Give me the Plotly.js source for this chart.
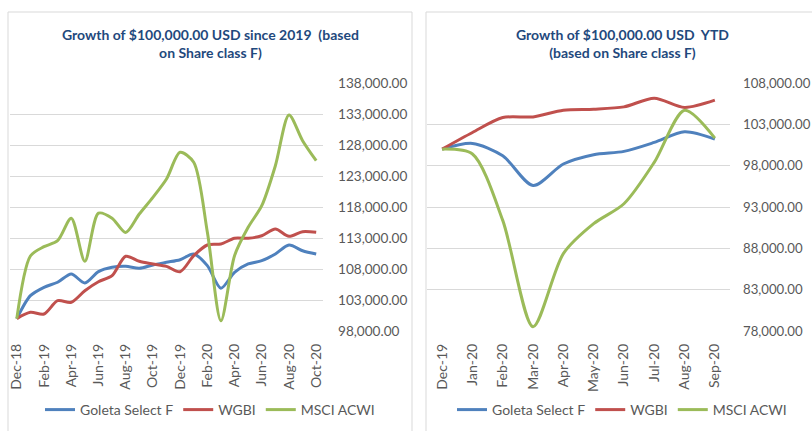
<!DOCTYPE html>
<html>
<head>
<meta charset="utf-8">
<script src="https://cdn.plot.ly/plotly-3.0.1.min.js"></script>
<style>html,body{margin:0;padding:0;background:#fff;}#chart{width:812px;height:431px;}</style>
</head>
<body>
<div id="chart"></div>
<script>
// ---- Data: since 2019 (left chart) ----
const monthsLeft = ['Dec-18','Jan-19','Feb-19','Mar-19','Apr-19','May-19','Jun-19','Jul-19','Aug-19','Sep-19','Oct-19','Nov-19',
  'Dec-19','Jan-20','Feb-20','Mar-20','Apr-20','May-20','Jun-20','Jul-20','Aug-20','Sep-20','Oct-20'];
const leftTickLabels = ['Dec-18','Feb-19','Apr-19','Jun-19','Aug-19','Oct-19','Dec-19','Feb-20','Apr-20','Jun-20','Aug-20','Oct-20'];
const goletaLeft = [100000,103700,105050,105860,107200,105740,107570,108270,108430,108110,108650,109080,
  109500,110420,108540,104890,107470,108810,109340,110420,111870,110950,110420];
const wgbiLeft = [100000,101010,100740,102890,102630,104500,105950,106920,110050,109240,108810,108430,
  107570,110150,111870,112030,112950,112950,113370,114450,113270,114020,113920];
const msciLeft = [100000,110100,111600,112570,116180,109240,117000,116200,113900,116870,119560,122520,
  126820,125210,113970,99660,110150,114720,118210,124660,132840,128700,125470];

// ---- Data: YTD (right chart) ----
const monthsRight = ['Dec-19','Jan-20','Feb-20','Mar-20','Apr-20','May-20','Jun-20','Jul-20','Aug-20','Sep-20'];
const goletaRight = [100000,100690,99200,95600,98200,99330,99730,100810,102100,101220];
const wgbiRight = [100000,102015,103820,103900,104710,104830,105110,106160,105050,105920];
const msciRight = [100000,99410,91380,78520,87360,90980,93390,98400,104710,101340];

const seriesNames = ['Goleta Select F','WGBI','MSCI ACWI'];
const colors = ['#4F81BD','#C0504D','#9BBB59'];

const W = 812, H = 431;
const px = x => x / W;
const py = y => 1 - y / H;

const FONT = 'Lato, "Open Sans", sans-serif';
const GRAY = '#595959';
const TITLE_COLOR = '#1F497D';

function mk(x, y, i, xa, ya, leg) {
  return {
    x: x, y: y, name: seriesNames[i], type: 'scatter', mode: 'lines',
    line: {color: colors[i], width: 3, shape: 'spline', smoothing: 0.8},
    xaxis: xa, yaxis: ya, legend: leg, hoverinfo: 'x+y+name'
  };
}

const traces = [
  mk(monthsLeft, goletaLeft, 0, 'x', 'y', 'legend'),
  mk(monthsLeft, wgbiLeft, 1, 'x', 'y', 'legend'),
  mk(monthsLeft, msciLeft, 2, 'x', 'y', 'legend'),
  mk(monthsRight, goletaRight, 0, 'x2', 'y2', 'legend2'),
  mk(monthsRight, wgbiRight, 1, 'x2', 'y2', 'legend2'),
  mk(monthsRight, msciRight, 2, 'x2', 'y2', 'legend2')
];

const xBase = {
  type: 'category', showgrid: false, zeroline: false, showline: false, ticks: '',
  tickangle: -90, tickfont: {family: FONT, size: 14, color: GRAY}, ticklabelstandoff: 9, fixedrange: true
};
const yBase = {
  side: 'right', showgrid: true, gridcolor: '#D9D9D9', gridwidth: 1, zeroline: false, showline: false,
  ticks: '', tickformat: ',.2f', dtick: 5000, tickfont: {family: FONT, size: 13.6, color: GRAY},
  ticklabelstandoff: 14, fixedrange: true
};

const legBase = {orientation: 'h', y: py(410), yanchor: 'middle', xanchor: 'center',
  font: {family: FONT, size: 14, color: GRAY}, bgcolor: 'rgba(0,0,0,0)', itemwidth: 30, tracegroupgap: 0};

const layout = {
  width: W, height: H,
  margin: {l: 0, r: 0, t: 0, b: 0},
  paper_bgcolor: '#ffffff', plot_bgcolor: 'rgba(0,0,0,0)',
  font: {family: FONT, color: GRAY},
  xaxis: Object.assign({}, xBase, {domain: [px(10), px(323)], anchor: 'y', range: [-0.5, monthsLeft.length - 0.5],
    tickmode: 'array', tickvals: leftTickLabels, ticktext: leftTickLabels}),
  yaxis: Object.assign({}, yBase, {domain: [py(331), py(83)], anchor: 'x', range: [98000, 138000], tick0: 98000}),
  xaxis2: Object.assign({}, xBase, {domain: [px(427), px(730)], anchor: 'y2', range: [-0.5, monthsRight.length - 0.5],
    tickmode: 'array', tickvals: monthsRight, ticktext: monthsRight}),
  yaxis2: Object.assign({}, yBase, {domain: [py(331), py(83)], anchor: 'x2', range: [78000, 108000], tick0: 78000,
    ticklabelstandoff: 12, tickfont: {family: FONT, size: 13.2, color: GRAY}}),
  legend: Object.assign({}, legBase, {x: px(210)}),
  legend2: Object.assign({}, legBase, {x: px(622)}),
  shapes: [
    {type: 'rect', xref: 'paper', yref: 'paper', x0: px(8), x1: px(412), y0: py(12), y1: py(445),
      line: {color: '#D9D9D9', width: 1}, fillcolor: 'rgba(0,0,0,0)', layer: 'below'},
    {type: 'rect', xref: 'paper', yref: 'paper', x0: px(426), x1: px(830), y0: py(12), y1: py(445),
      line: {color: '#D9D9D9', width: 1}, fillcolor: 'rgba(0,0,0,0)', layer: 'below'}
  ],
  annotations: [
    {text: '<b>Growth of $100,000.00 USD since 2019  (based<br>on Share class F)</b>', xref: 'paper', yref: 'paper',
      x: px(210), y: py(44), xanchor: 'center', yanchor: 'middle', showarrow: false, align: 'center',
      font: {family: FONT, size: 14, color: TITLE_COLOR}},
    {text: '<b>Growth of $100,000.00 USD  YTD<br>(based on Share class F)</b>', xref: 'paper', yref: 'paper',
      x: px(622), y: py(44), xanchor: 'center', yanchor: 'middle', showarrow: false, align: 'center',
      font: {family: FONT, size: 14, color: TITLE_COLOR}}
  ]
};

Plotly.newPlot('chart', traces, layout, {displayModeBar: false, staticPlot: true});
</script>
</body>
</html>
